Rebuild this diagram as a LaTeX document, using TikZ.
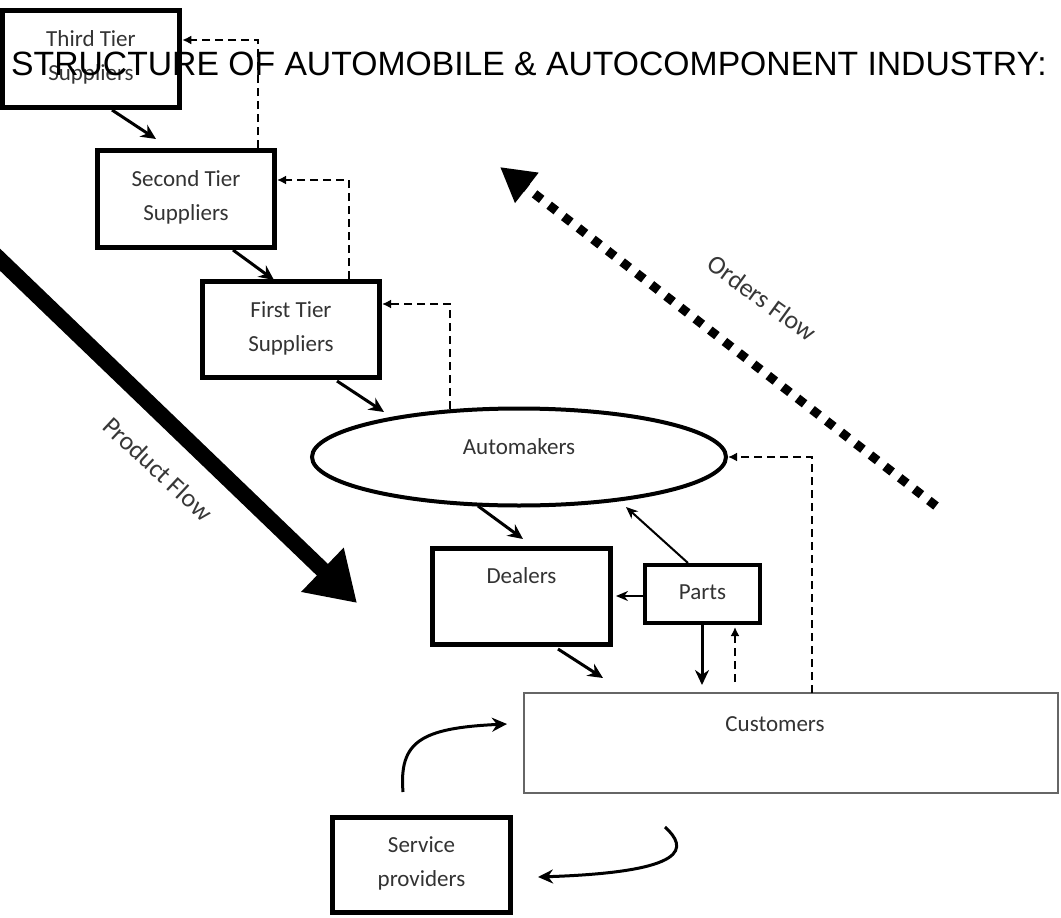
\documentclass[tikz,border=0pt]{standalone}
\usepackage{fontspec}
\setmainfont{Carlito}
\newfontfamily\titlefont{Liberation Sans}
\usetikzlibrary{arrows.meta,shapes.geometric}
\begin{document}
\begin{tikzpicture}[x=1pt,y=-1pt,
  tierbox/.style={draw=black, line width=5pt, rectangle, inner sep=0pt},
  lbl/.style={font=\fontsize{23}{34}\selectfont, text=black!80, align=center, inner sep=0pt},
  flow/.style={line width=3pt, -{Stealth[length=15pt,width=14pt]}},
  thinflow/.style={line width=2pt, -{Stealth[length=12pt,width=10pt]}},
  order/.style={line width=2pt, dash pattern=on 8pt off 5pt, -{Latex[length=9pt,width=9pt]}},
  bigtext/.style={font=\fontsize{26}{30}\selectfont, text=black!78, inner sep=0pt}]
\useasboundingbox (0,0) rectangle (1061,918);
\fill[white] (0,0) rectangle (1061,918);

% supplier chain boxes
\node[tierbox, minimum width=177.5pt, minimum height=97pt] (third) at (91,58.5) {};
\node[lbl] (thirdtxt) at (91,57) {Third Tier\\Suppliers};
\node[tierbox, minimum width=177pt, minimum height=97pt] (second) at (186,199) {};
\node[lbl] (secondtxt) at (186,197) {Second Tier\\Suppliers};
\node[tierbox, minimum width=177pt, minimum height=96pt] (first) at (291,329.5) {};
\node[lbl] (firsttxt) at (291,328) {First Tier\\Suppliers};

% automakers
\node[draw=black, line width=4pt, ellipse, minimum width=414pt, minimum height=97pt, inner sep=0pt] (auto) at (519,457) {};
\node[lbl] (autotxt) at (519,447) {Automakers};

% dealers and parts
\node[tierbox, minimum width=178pt, minimum height=96pt] (dealers) at (521.5,596.5) {};
\node[lbl] (dealerstxt) at (521.5,576) {Dealers};
\node[draw=black, line width=4pt, rectangle, minimum width=115pt, minimum height=58pt, inner sep=0pt] (parts) at (702.5,594) {};
\node[lbl] (partstxt) at (702.5,592) {Parts};

% customers
\node[draw=black!60, line width=2pt, rectangle, minimum width=534pt, minimum height=100pt, inner sep=0pt] (cust) at (791,743) {};
\node[lbl] (custtxt) at (775,724) {Customers};

% service providers
\node[tierbox, minimum width=178pt, minimum height=95pt] (service) at (421.5,865) {};
\node[lbl] (servicetxt) at (421.5,863) {Service\\providers};

% title
\node[anchor=base west, inner sep=0pt, font=\titlefont\fontsize{33.7}{40}\selectfont] (title) at (11,75)
  {STRUCTURE OF AUTOMOBILE \& AUTOCOMPONENT INDUSTRY:};

% product flow between stages
\draw[flow] (112,110) coordinate (t1) -- (156,139) coordinate (t2);
\draw[flow] (233,250) coordinate (s1) -- (274,280) coordinate (s2);
\draw[flow] (337,381) coordinate (f1) -- (384,412) coordinate (f2);
\draw[flow] (478,506) coordinate (a1) -- (523,539) coordinate (a2);
\draw[flow] (558,649) coordinate (d1) -- (603,678) coordinate (d2);
\draw[thinflow] (688,563) coordinate (p0) -- (626,507) coordinate (p1);
\draw[thinflow] (parts.west |- 0,596) -- (616,596) coordinate (p2);
\draw[flow] (702,625) coordinate (p3) -- (702,685) coordinate (p4);
\draw[order] (735,682) coordinate (c0) -- (735,627) coordinate (c1);

% order flow (dashed)
\draw[order] (812,693) coordinate (o1) |- (auto.east);
\draw[order] (450,409) coordinate (o2) |- (first.east |- 0,304);
\draw[order] (349,279) coordinate (o3) |- (second.east |- 0,180);
\draw[order] (258,148) coordinate (o4) |- (third.east |- 0,40);

% service loop
\draw[line width=3pt, -{Stealth[length=15pt,width=14pt]}] (403,792) coordinate (sv1)
  .. controls (399,742) and (420,728) .. (507,724) coordinate (sv2);
\draw[line width=3pt, -{Stealth[length=15pt,width=14pt]}] (665,827) coordinate (sv3)
  .. controls (688,848) and (690,872) .. (538,877) coordinate (sv4);

% big flow arrows
\draw[line width=16pt, -{Triangle[length=48pt,width=58pt]}] (-8,252) coordinate (pf0) -- (357,603) coordinate (pf1);
\node[bigtext, rotate=-43] (pftxt) at (158,469) {Product Flow};
\draw[line width=9pt, dash pattern=on 9pt off 9.5pt, -{Triangle[length=34pt,width=36pt]}] (936,506) coordinate (of0) -- (500,167) coordinate (of1);
\node[bigtext, rotate=-36] (oftxt) at (762,298) {Orders Flow};
\end{tikzpicture}
\end{document}
